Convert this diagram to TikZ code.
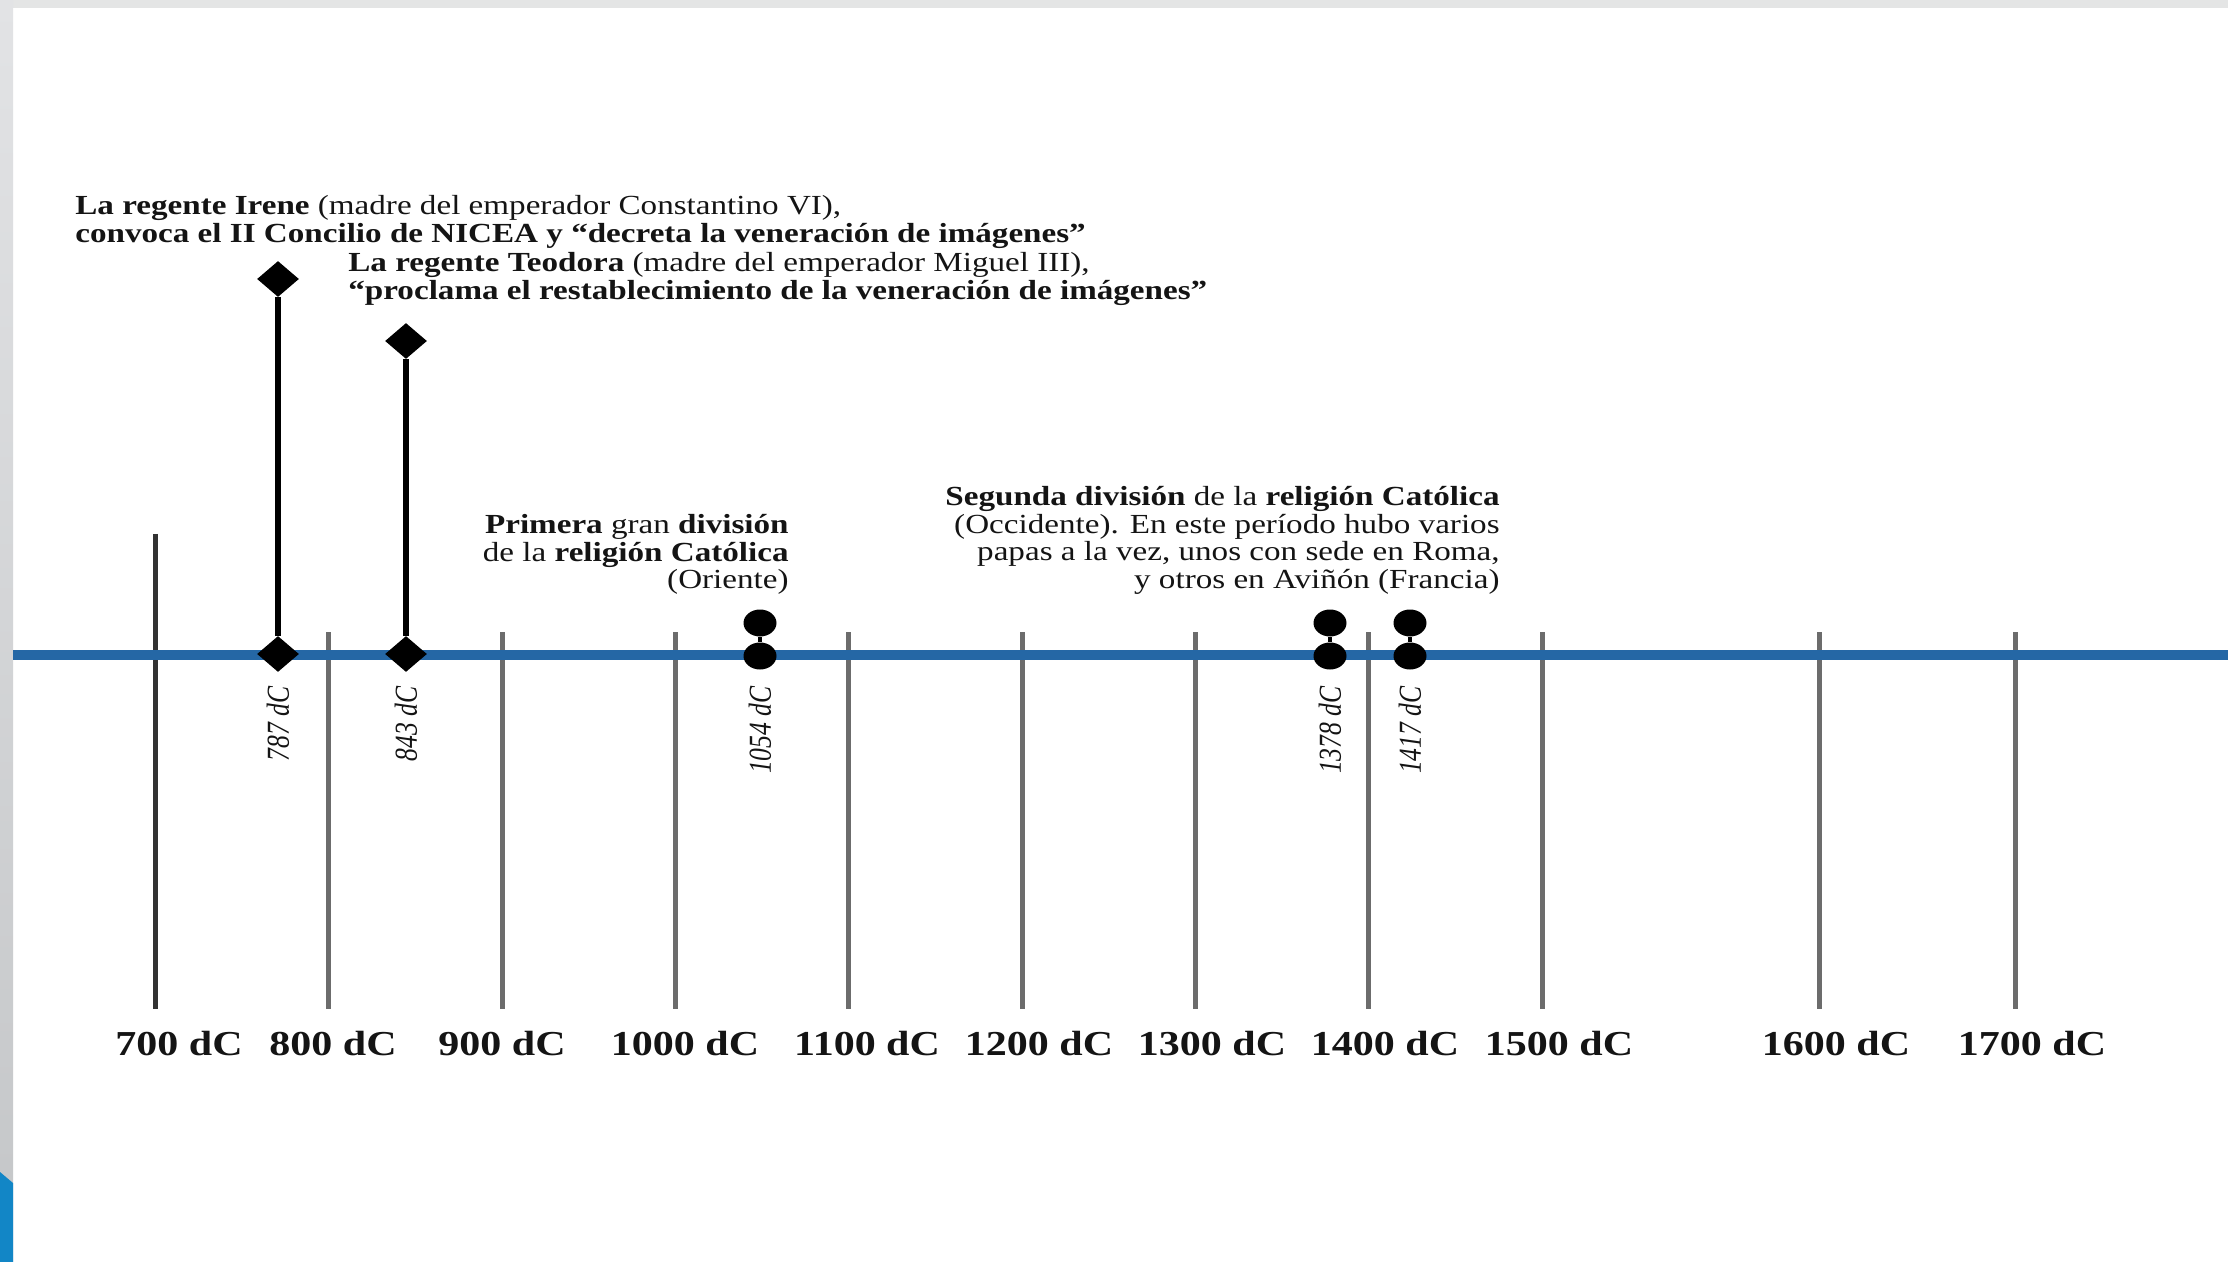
\documentclass[tikz,border=0pt]{standalone}
\usepackage{fontspec}
\setmainfont{Liberation Serif}[FakeStretch=1.2]
\newfontfamily\datefont{Liberation Serif}[FakeStretch=0.8]
\usetikzlibrary{shapes.geometric}
\definecolor{axisblue}{RGB}{37,103,165}
\definecolor{tickgray}{RGB}{108,108,108}
\definecolor{tickdark}{RGB}{50,50,50}
\definecolor{framegray}{RGB}{228,229,229}
\definecolor{striptop}{RGB}{226,227,229}
\definecolor{stripbot}{RGB}{196,198,200}
\definecolor{cornerblue}{RGB}{18,134,198}
\definecolor{inkblack}{RGB}{20,20,20}
\tikzset{
  tickline/.style={draw=tickgray, line width=2.5pt},
  axisline/.style={draw=axisblue, line width=5pt},
  dia/.style={diamond, fill=black, inner sep=0pt, minimum width=21pt, minimum height=18pt},
  blob/.style={ellipse, fill=black, inner sep=0pt, minimum width=16.5pt, minimum height=13.5pt},
  stem/.style={draw=black, line width=2.8pt},
  neck/.style={draw=black, line width=2pt},
  datelabel/.style={rotate=90, anchor=east, inner sep=0pt, text=inkblack,
    font=\datefont\itshape\fontsize{16}{18}\selectfont},
  yearlabel/.style={anchor=base, inner sep=0pt, text=inkblack,
    font=\bfseries\fontsize{17.5}{20}\selectfont},
  note/.style={inner sep=0pt, text=inkblack, font=\fontsize{13.8}{13.75}\selectfont}
}
\begin{document}
\begin{tikzpicture}[x=0.5pt,y=-0.5pt]
\useasboundingbox (0,0) rectangle (2228,1262);
\fill[white] (0,0) rectangle (2228,1262);
\fill[framegray] (0,0) rectangle (2228,8);
\shade[top color=striptop, bottom color=stripbot] (0,0) rectangle (13,1262);
\fill[cornerblue] (0,1172) -- (13,1183) -- (13,1262) -- (0,1262) -- cycle;

% ticks
\draw[tickline, draw=tickdark] (155,534) -- (155,1009);
\foreach \x in {328,502,675,848,1022,1195,1368,1542,1819,2015}
  \draw[tickline] (\x,632) -- (\x,1009);

% axis
\coordinate (axstart) at (13,655);
\coordinate (axend) at (2228,655);
\draw[axisline] (axstart) -- (axend);

% year labels
\node[yearlabel] (y700) at (179,1055) {700 dC};
\node[yearlabel] (y800) at (333,1055) {800 dC};
\node[yearlabel] (y900) at (502,1055) {900 dC};
\node[yearlabel] (y1000) at (685,1055) {1000 dC};
\node[yearlabel] (y1100) at (867,1055) {1100 dC};
\node[yearlabel] (y1200) at (1039,1055) {1200 dC};
\node[yearlabel] (y1300) at (1212,1055) {1300 dC};
\node[yearlabel] (y1400) at (1385,1055) {1400 dC};
\node[yearlabel] (y1500) at (1559,1055) {1500 dC};
\node[yearlabel] (y1600) at (1836,1055) {1600 dC};
\node[yearlabel] (y1700) at (2032,1055) {1700 dC};

% diamond markers
\node[dia] (m787top) at (278,279) {};
\node[dia] (m787bot) at (278,654) {};
\draw[stem] (m787top) -- (m787bot);
\node[dia] (m843top) at (406,341) {};
\node[dia] (m843bot) at (406,654) {};
\draw[stem] (m843top) -- (m843bot);

% round markers
\node[blob] (m1054top) at (760,623) {};
\node[blob] (m1054bot) at (760,656) {};
\draw[neck] (m1054top) -- (m1054bot);
\node[blob] (m1378top) at (1330,623) {};
\node[blob] (m1378bot) at (1330,656) {};
\draw[neck] (m1378top) -- (m1378bot);
\node[blob] (m1417top) at (1410,623) {};
\node[blob] (m1417bot) at (1410,656) {};
\draw[neck] (m1417top) -- (m1417bot);

% dates
\node[datelabel] (d787) at (278,686) {787 dC};
\node[datelabel] (d843) at (406,686) {843 dC};
\node[datelabel] (d1054) at (760,686) {1054 dC};
\node[datelabel] (d1378) at (1330,686) {1378 dC};
\node[datelabel] (d1417) at (1410,686) {1417 dC};

% annotations
\node[note, anchor=north west, align=left] (irene) at (75,195)
  {\textbf{La regente Irene} (madre del emperador Constantino VI),\\
   \textbf{convoca el II Concilio de NICEA y “decreta la veneración de imágenes”}};
\node[note, anchor=north west, align=left] (teodora) at (348,252)
  {\textbf{La regente Teodora} (madre del emperador Miguel III),\\
   \textbf{“proclama el restablecimiento de la veneración de imágenes”}};
\node[note, anchor=north east, align=right] (primera) at (789,514)
  {\textbf{Primera} gran \textbf{división}\\
   de la \textbf{religión Católica}\\
   (Oriente)};
\node[note, anchor=north east, align=right] (segunda) at (1500,486)
  {\textbf{Segunda división} de la \textbf{religión Católica}\\
   (Occidente). En este período hubo varios\\
   papas a la vez, unos con sede en Roma,\\
   y otros en Aviñón (Francia)};
\end{tikzpicture}
\end{document}
